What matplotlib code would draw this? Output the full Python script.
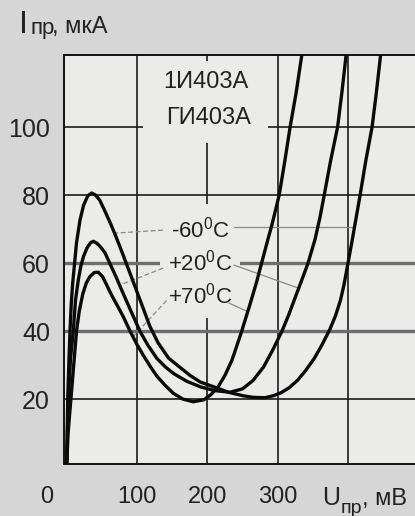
import numpy as np
import matplotlib
matplotlib.use("Agg")
import matplotlib.pyplot as plt
from matplotlib.patches import Rectangle

plt.rcParams['font.family'] = ['Liberation Sans', 'DejaVu Sans']
plt.rcParams['mathtext.fontset'] = 'custom'
plt.rcParams['mathtext.rm'] = 'Liberation Sans'

# ---- I-V characteristics of tunnel diode 1И403А / ГИ403А ----
u_m60 = [0, 1.5, 3, 4.7, 6.5, 8.5, 10.8, 14, 18.9, 24, 30, 35.5, 41, 47, 55, 63, 70,
         80, 90, 100, 110, 118, 130, 145, 160, 175, 190, 209, 230, 250, 265, 282,
         294, 304, 316, 328, 340, 352, 363, 374, 382, 389, 394, 398, 406, 417, 425,
         434, 440, 446]
i_m60 = [0.5, 20, 30, 40, 48, 54, 59, 66, 72.6, 77, 79.8, 80.6, 80, 78.5, 75, 71.3,
         67.8, 62.5, 57, 51.5, 46, 41.5, 36.5, 32, 29.5, 27, 25, 23.6, 22, 21, 20.5,
         20.4, 21, 21.8, 23.3, 25.5, 28.5, 32, 36, 40.5, 44.5, 49, 53.5, 58, 67, 80,
         90, 100, 110, 121]

u_p20 = [0, 2.3, 5.5, 9.4, 12.5, 16.5, 20, 24, 29, 34, 38, 43, 48, 54.5, 60, 70, 80,
         90, 104, 115, 128, 140, 152, 170, 190, 210, 232, 250, 265, 280, 293, 306,
         315, 325, 335, 343, 353, 360, 366, 375, 385, 391, 397]
i_p20 = [0.5, 20, 32, 40, 49, 55, 59, 62, 64.5, 66, 66.4, 65.8, 64.8, 63, 60.5, 56,
         51.2, 46.5, 40, 36, 32, 29.5, 27.5, 25.3, 23.6, 22.5, 22, 23, 25.5, 29.5,
         34.5, 40, 44.5, 50, 55.5, 60, 67, 73.5, 80, 90, 100, 110, 121]

u_p70 = [0, 2, 6, 10, 14, 18, 23, 28, 33, 39, 45, 51, 57, 64, 72, 80.5, 90, 100, 110,
         120, 128, 140, 151.6, 165, 180, 195, 205, 215, 225, 235, 248, 260, 270, 277,
         286, 292, 302, 310, 317.5, 326, 334]
i_p70 = [0.5, 10, 20, 30, 40, 46, 51, 54.2, 56, 57.2, 57.3, 56, 53.5, 50.5, 47.5,
         44.2, 40, 36, 32.5, 29.2, 26.8, 24, 21.7, 20, 19.2, 19.8, 21.3, 23.5, 27,
         31.5, 39.5, 47.5, 54.5, 60, 67, 71.5, 80, 90, 100, 110, 121]

y_ticks = [20, 40, 60, 80, 100]
x_ticks = [100, 200, 300]
x_grid = [100, 200, 300, 400]
labels_temp = ["-60", "+20", "+70"]
diode_names = ["1И403А", "ГИ403А"]

W, H = 415, 516
fig = plt.figure(figsize=(W / 100, H / 100), dpi=100)
fig.patch.set_facecolor('#d6d6d6')


def fx(px):
    return px / W


def fy(py):
    return 1 - py / H


ax = fig.add_axes([fx(64), fy(464), fx(415) - fx(64), fy(55) - fy(464)])
bg = '#ebebea'
ax.set_facecolor(bg)
ax.set_xlim(-3.8, 495)
ax.set_ylim(0.9, 121.2)

# grid
for xv in x_grid:
    ax.axvline(xv, color='#1c1c1c', lw=1.2, zorder=1)
for yv in y_ticks:
    if yv in (40, 60):
        ax.axhline(yv, color='#6e6e6e', lw=2.4, zorder=1)
    else:
        ax.axhline(yv, color='#1c1c1c', lw=1.2, zorder=1)

# clear areas behind the captions
ax.add_patch(Rectangle((108.5, 95.3), 177.5, 24.2, facecolor=bg, edgecolor='none', zorder=2))
ax.add_patch(Rectangle((132.6, 43.8), 114.1, 33.6, facecolor=bg, edgecolor='none', zorder=2))

for u, i in ((u_m60, i_m60), (u_p20, i_p20), (u_p70, i_p70)):
    ax.plot(u, i, color='#0a0a0a', lw=2.4, solid_joinstyle='round',
            solid_capstyle='round', zorder=4, clip_on=True)

ax.spines['right'].set_visible(False)
for sp in ('left', 'top', 'bottom'):
    ax.spines[sp].set_linewidth(1.4)
    ax.spines[sp].set_color('#111111')

ax.set_yticks(y_ticks)
ax.set_yticklabels([str(v) for v in y_ticks], fontsize=18, color='#222222')
ax.set_xticks(x_ticks)
ax.set_xticklabels([str(v) for v in x_ticks], fontsize=17, color='#222222')
ax.tick_params(axis='y', length=0, pad=10)
ax.tick_params(axis='x', length=0, pad=16)

fig.text(fx(47), fy(497), "0", fontsize=17, color='#222222', ha='center', va='center')

# axis captions
fig.text(fx(19), fy(33), "I", fontsize=23, color='#222222', ha='left', va='baseline')
fig.text(fx(30), fy(34), "пр", fontsize=16, color='#222222', ha='left', va='baseline')
fig.text(fx(52), fy(33), ", мкА", fontsize=17, color='#222222', ha='left', va='baseline')

fig.text(fx(322), fy(505), "U", fontsize=18, color='#222222', ha='left', va='baseline')
fig.text(fx(341), fy(513), "пр", fontsize=14, color='#222222', ha='left', va='baseline')
fig.text(fx(362), fy(505), ", мВ", fontsize=17, color='#222222', ha='left', va='baseline')

# device names
ax.text(198, 113.2, diode_names[0], fontsize=17, color='#222222', ha='center', va='center', zorder=5)
ax.text(201, 102.8, diode_names[1], fontsize=17, color='#222222', ha='center', va='center', zorder=5)

# temperature captions
temp_y = [69.9, 60.1, 50.4]
for lab, yv in zip(labels_temp, temp_y):
    ax.text(190, yv, lab + r"$^{\mathregular{0}}$C", fontsize=16, color='#222222',
            ha='center', va='center', zorder=5)


def branch_u(u, i, level, lo, hi):
    u = np.asarray(u, float)
    i = np.asarray(i, float)
    m = (u >= lo) & (u <= hi)
    uu, ii = u[m], i[m]
    order = np.argsort(ii)
    return np.interp(level, ii[order], uu[order])


lead = dict(color='#8a8a8a', lw=0.9, zorder=3)
# left-hand leaders to the falling branches
y0 = 68.8
ax.plot([137, branch_u(u_m60, i_m60, y0, 36, 120)], [69.7, y0], ls=(0, (4, 2)), **lead)
y0 = 53.5
ax.plot([137, branch_u(u_p20, i_p20, y0, 38, 110)], [58.5, y0], ls=(0, (4, 2)), **lead)
y0 = 38.3
ax.plot([142, branch_u(u_p70, i_p70, y0, 45, 100)], [49.0, y0], ls=(0, (4, 2)), **lead)
# right-hand leaders to the rising branches
y0 = 70.5
ax.plot([238, branch_u(u_m60, i_m60, y0, 300, 446)], [70.5, y0], **lead)
y0 = 52.6
ax.plot([238, branch_u(u_p20, i_p20, y0, 240, 397)], [59.4, y0], **lead)
y0 = 45.7
ax.plot([231, branch_u(u_p70, i_p70, y0, 185, 334)], [48.2, y0], **lead)

fig.savefig("out.png", dpi=100, facecolor=fig.get_facecolor())
